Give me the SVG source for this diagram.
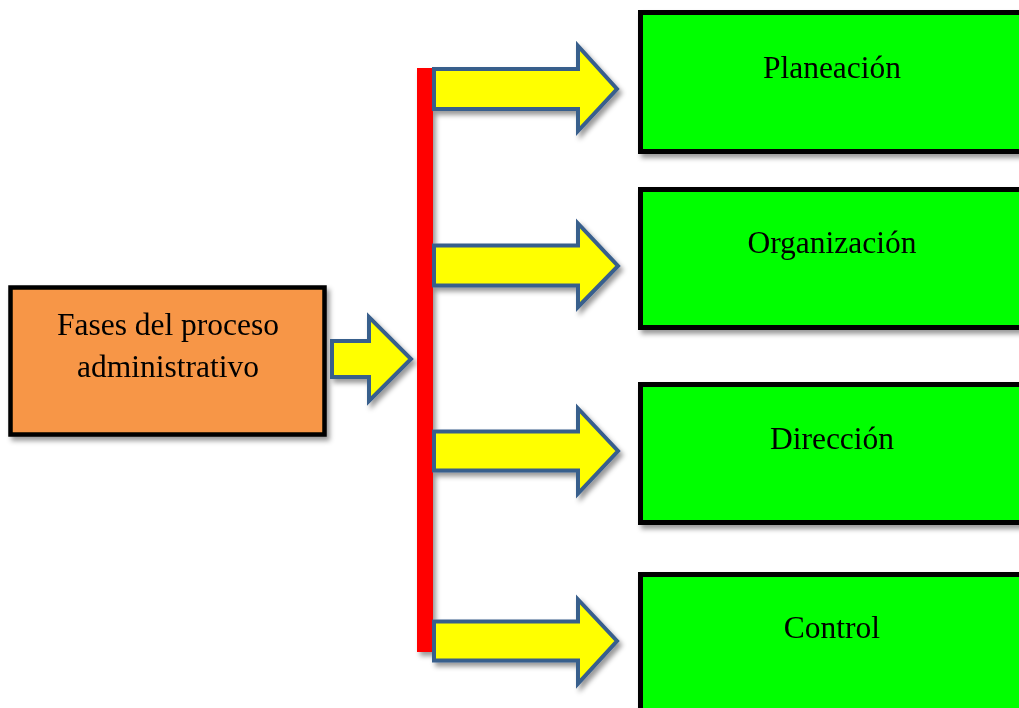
<svg xmlns="http://www.w3.org/2000/svg" width="1019" height="708" viewBox="0 0 1019 708">
  <defs>
    <filter id="shadow" x="-10%" y="-20%" width="130%" height="150%">
      <feDropShadow dx="3" dy="4" stdDeviation="2.5" flood-color="#000" flood-opacity="0.4"/>
    </filter>
    <style>
      .lbl { font-family: "Liberation Serif", "Times New Roman", serif; font-size: 31.5px; fill: #000; text-anchor: middle; }
      .phase { fill: #00FF00; stroke: #000; stroke-width: 5; }
      .source { fill: #F79646; stroke: #000; stroke-width: 4.5; }
      .arrow { fill: #FFFF00; stroke: #395E8C; stroke-width: 4; stroke-linejoin: miter; }
      .bar { fill: #FF0000; }
    </style>
  </defs>
  <rect width="1019" height="708" fill="#fff"/>

  <!-- source node -->
  <g id="node-fases" filter="url(#shadow)">
    <rect class="source" x="10.5" y="287.5" width="314" height="147"/>
    <text class="lbl" x="168" y="335">Fases del proceso</text>
    <text class="lbl" x="168" y="377">administrativo</text>
  </g>

  <!-- phase nodes -->
  <g id="node-planeacion" filter="url(#shadow)">
    <rect class="phase" x="640.5" y="12.5" width="390" height="139"/>
    <text class="lbl" x="832" y="78">Planeación</text>
  </g>
  <g id="node-organizacion" filter="url(#shadow)">
    <rect class="phase" x="640.5" y="189.5" width="390" height="138"/>
    <text class="lbl" x="832" y="253">Organización</text>
  </g>
  <g id="node-direccion" filter="url(#shadow)">
    <rect class="phase" x="640.5" y="384.5" width="390" height="138"/>
    <text class="lbl" x="832" y="449">Dirección</text>
  </g>
  <g id="node-control" filter="url(#shadow)">
    <rect class="phase" x="640.5" y="574.5" width="390" height="150"/>
    <text class="lbl" x="832" y="638">Control</text>
  </g>

  <!-- connectors: block arrows and the red distribution bar -->
  <g id="connectors" filter="url(#shadow)">
    <path class="arrow" d="M332,341 H369 V317 L411,359 L369,401 V377 H332 Z"/>
    <rect class="bar" x="417" y="68" width="16" height="584"/>
    <path class="arrow" d="M434,69 H578 V46 L617,89 L578,131 V109 H434 Z"/>
    <path class="arrow" d="M434,245.5 H578 V223.5 L618,266 L578,307 V285.5 H434 Z"/>
    <path class="arrow" d="M434,431.5 H578 V408.5 L618,451 L578,493.5 V470.5 H434 Z"/>
    <path class="arrow" d="M434,621.5 H578 V599.5 L617,641 L578,683.5 V660.5 H434 Z"/>
  </g>
</svg>
